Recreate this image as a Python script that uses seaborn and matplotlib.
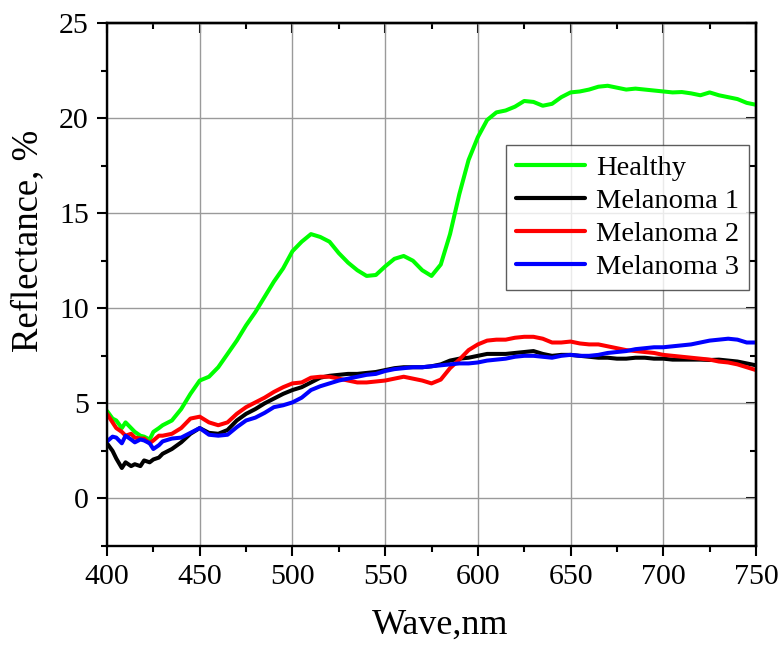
import numpy as np
import pandas as pd
import matplotlib
matplotlib.use("Agg")
import matplotlib.pyplot as plt
from matplotlib.ticker import MultipleLocator
import seaborn as sns

wavelength = [400, 403, 405, 408, 410, 413, 415, 418, 420, 423, 425, 428] + list(range(430, 751, 5))

healthy = [4.6, 4.2, 4.1, 3.7, 4.0, 3.7, 3.5, 3.3, 3.25, 3.1, 3.5, 3.7,
           3.85, 4.1, 4.7, 5.5, 6.2, 6.4, 6.9, 7.6, 8.3, 9.1, 9.8, 10.6, 11.4, 12.1,
           13.0, 13.5, 13.9, 13.75, 13.5, 12.9, 12.4, 12.0, 11.7, 11.75, 12.2, 12.6,
           12.75, 12.5, 12.0, 11.7, 12.3, 13.9, 16.0, 17.8, 19.0, 19.9, 20.3, 20.4,
           20.6, 20.9, 20.85, 20.65, 20.75, 21.1, 21.35, 21.4, 21.5, 21.65, 21.7, 21.6,
           21.5, 21.55, 21.5, 21.45, 21.4, 21.35, 21.37, 21.3, 21.2, 21.35, 21.2, 21.1,
           21.0, 20.8, 20.7]

melanoma1 = [2.9, 2.5, 2.1, 1.6, 1.9, 1.7, 1.8, 1.7, 2.0, 1.9, 2.05, 2.15,
             2.35, 2.6, 2.95, 3.4, 3.7, 3.45, 3.4, 3.6, 4.1, 4.45, 4.7, 5.0, 5.25, 5.5,
             5.7, 5.85, 6.1, 6.35, 6.45, 6.5, 6.55, 6.55, 6.6, 6.65, 6.75, 6.85,
             6.9, 6.9, 6.9, 6.95, 7.05, 7.25, 7.35, 7.4, 7.5, 7.6, 7.6, 7.6,
             7.65, 7.7, 7.75, 7.6, 7.5, 7.55, 7.55, 7.5, 7.45, 7.4, 7.4, 7.35,
             7.35, 7.4, 7.4, 7.35, 7.35, 7.3, 7.3, 7.3, 7.3, 7.28, 7.3, 7.25,
             7.2, 7.1, 7.0]

melanoma2 = [4.45, 4.0, 3.7, 3.5, 3.3, 3.4, 3.2, 3.15, 3.15, 2.9, 3.05, 3.3,
             3.3, 3.4, 3.7, 4.2, 4.3, 4.0, 3.85, 4.0, 4.45, 4.8, 5.05, 5.3, 5.6, 5.85,
             6.05, 6.1, 6.35, 6.4, 6.4, 6.3, 6.2, 6.1, 6.1, 6.15, 6.2, 6.3,
             6.4, 6.3, 6.2, 6.05, 6.25, 6.85, 7.3, 7.8, 8.1, 8.3, 8.35, 8.35,
             8.45, 8.5, 8.5, 8.4, 8.2, 8.2, 8.25, 8.15, 8.1, 8.1, 8.0, 7.9,
             7.8, 7.75, 7.7, 7.65, 7.55, 7.5, 7.45, 7.4, 7.35, 7.3, 7.2, 7.15,
             7.05, 6.9, 6.75]

melanoma3 = [3.0, 3.25, 3.2, 2.9, 3.3, 3.1, 2.95, 3.1, 3.05, 2.9, 2.6, 2.8,
             3.0, 3.15, 3.2, 3.45, 3.7, 3.35, 3.3, 3.35, 3.75, 4.1, 4.25, 4.5, 4.8, 4.9,
             5.05, 5.3, 5.7, 5.9, 6.05, 6.2, 6.3, 6.4, 6.5, 6.55, 6.7, 6.8,
             6.85, 6.9, 6.9, 6.95, 7.0, 7.05, 7.1, 7.1, 7.15, 7.25, 7.3, 7.35,
             7.45, 7.5, 7.5, 7.45, 7.4, 7.5, 7.55, 7.5, 7.5, 7.55, 7.65, 7.7,
             7.75, 7.85, 7.9, 7.95, 7.95, 8.0, 8.05, 8.1, 8.2, 8.3, 8.35, 8.4,
             8.35, 8.2, 8.2]

series_names = ["Healthy", "Melanoma 1", "Melanoma 2", "Melanoma 3"]
series_colors = ["#00ff00", "#000000", "#ff0000", "#0000ff"]

frames = []
for name, vals in zip(series_names, [healthy, melanoma1, melanoma2, melanoma3]):
    frames.append(pd.DataFrame({"Wave": wavelength, "Reflectance": vals, "Series": name}))
df = pd.concat(frames, ignore_index=True)

sns.set_style("ticks")
plt.rcParams["font.family"] = ["Liberation Serif", "DejaVu Serif"]
plt.rcParams["text.color"] = "black"
plt.rcParams["axes.labelcolor"] = "black"
plt.rcParams["xtick.color"] = "black"
plt.rcParams["ytick.color"] = "black"

fig = plt.figure(figsize=(7.82, 6.46), dpi=100)
ax = fig.add_axes([107 / 782, 1 - 546 / 646, (756 - 107) / 782, (546 - 23) / 646])

sns.lineplot(data=df, x="Wave", y="Reflectance", hue="Series",
             hue_order=series_names, palette=series_colors,
             linewidth=2.9, ax=ax, sort=False, estimator=None)

ax.set_xlim(400, 750)
ax.set_ylim(-2.5, 25)
ax.xaxis.set_major_locator(MultipleLocator(50))
ax.xaxis.set_minor_locator(MultipleLocator(25))
ax.yaxis.set_major_locator(MultipleLocator(5))
ax.yaxis.set_minor_locator(MultipleLocator(2.5))
ax.grid(True, which="major", color="#9a9a9a", linewidth=1.0)
ax.set_axisbelow(True)

for s in ax.spines.values():
    s.set_linewidth(1.7)
    s.set_color("black")

ax.tick_params(which="major", direction="out", length=7, width=1.5, labelsize=21.5, pad=6,
               top=False, right=False, colors="black")
ax.tick_params(which="minor", direction="out", length=4, width=1.5, top=False, right=False,
               colors="black")

secx = ax.secondary_xaxis("top")
secx.xaxis.set_major_locator(MultipleLocator(50))
secx.xaxis.set_minor_locator(MultipleLocator(25))
secx.tick_params(which="both", direction="in", labeltop=False, width=1.5)
secx.tick_params(which="major", length=7)
secx.tick_params(which="minor", length=4)
secx.spines["top"].set_linewidth(1.7)
secy = ax.secondary_yaxis("right")
secy.yaxis.set_major_locator(MultipleLocator(5))
secy.yaxis.set_minor_locator(MultipleLocator(2.5))
secy.tick_params(which="both", direction="in", labelright=False, width=1.5)
secy.tick_params(which="major", length=7)
secy.tick_params(which="minor", length=4)
secy.spines["right"].set_linewidth(1.7)

ax.set_xlabel("Wave,nm", fontsize=26, color="black")
ax.set_ylabel("Reflectance, %", fontsize=26.5, color="black")
ax.xaxis.set_label_coords((440 - 107) / 649, -0.12)
ax.yaxis.set_label_coords(-0.096, (546 - 241) / 523)

leg = ax.legend(loc="upper right", bbox_to_anchor=((749 - 107) / 649, 1 - (145 - 23) / 523),
                borderaxespad=0, fontsize=20.5, frameon=True, fancybox=False,
                handlelength=2.4, handletextpad=0.4, labelspacing=0.25,
                borderpad=0.35, title=None)
leg.get_frame().set_edgecolor("#333333")
leg.get_frame().set_linewidth(1.0)
for line in leg.get_lines():
    line.set_linewidth(3.0)
for t in leg.get_texts():
    t.set_color("black")

fig.savefig("out.png", dpi=100)
